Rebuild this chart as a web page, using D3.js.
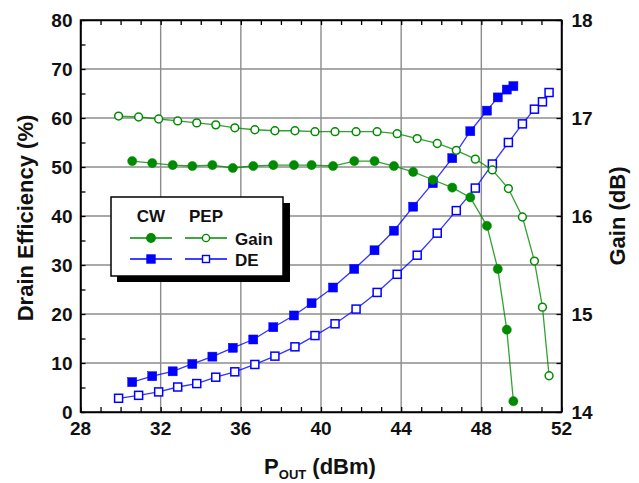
<!DOCTYPE html>
<html><head><meta charset="utf-8">
<script src="https://cdn.jsdelivr.net/npm/d3@7"></script>
<style>
html,body{margin:0;padding:0;background:#fff;}
svg{display:block;font-family:"Liberation Sans",Arial,sans-serif;font-weight:bold;}
</style></head>
<body><svg id="c" width="639" height="483"></svg>
<script>
// ---- data ----
const poutPEP = [29.9, 30.9, 31.9, 32.85, 33.8, 34.75, 35.7, 36.7, 37.7, 38.7, 39.7, 40.7, 41.75, 42.8, 43.8, 44.8, 45.8, 46.75, 47.7, 48.55, 49.35, 50.05, 50.65, 51.05, 51.38];
const gainPEP = [17.02, 17.01, 16.99, 16.97, 16.95, 16.93, 16.90, 16.88, 16.87, 16.87, 16.86, 16.86, 16.86, 16.86, 16.84, 16.79, 16.74, 16.67, 16.58, 16.47, 16.28, 15.99, 15.54, 15.07, 14.37];
const dePEP   = [2.8, 3.4, 4.1, 5.1, 5.8, 7.1, 8.2, 9.7, 11.4, 13.3, 15.6, 18.0, 21.0, 24.4, 28.1, 32.0, 36.5, 41.1, 45.7, 50.6, 55.0, 58.8, 61.8, 63.3, 65.2];
const poutCW  = [30.58, 31.58, 32.6, 33.58, 34.58, 35.6, 36.62, 37.62, 38.65, 39.53, 40.6, 41.66, 42.67, 43.64, 44.6, 45.58, 46.55, 47.45, 48.28, 48.82, 49.27, 49.6];
const gainCW  = [16.56, 16.54, 16.52, 16.51, 16.52, 16.49, 16.51, 16.52, 16.52, 16.52, 16.51, 16.56, 16.56, 16.51, 16.45, 16.37, 16.29, 16.19, 15.90, 15.46, 14.84, 14.11];
const deCW    = [6.1, 7.3, 8.3, 9.8, 11.3, 13.1, 14.8, 17.3, 19.7, 22.2, 25.4, 29.2, 33.0, 37.0, 41.9, 46.7, 51.8, 57.3, 61.5, 64.2, 65.8, 66.5];
const xTicks  = [28, 32, 36, 40, 44, 48, 52];
const yTicks  = [0, 10, 20, 30, 40, 50, 60, 70, 80];
const gTicks  = [14, 15, 16, 17, 18];

const GREEN = "#008a00", BLUE = "#0000ff";
const svg = d3.select("#c");
const L = 80.5, R = 561.5, T = 20, B = 412;
const x = d3.scaleLinear().domain([28, 52]).range([L, R]);
const y = d3.scaleLinear().domain([0, 80]).range([B, T]);
const yg = d3.scaleLinear().domain([14, 18]).range([B, T]);

// grid
const grid = svg.append("g").attr("stroke", "#8c8c8c").attr("stroke-width", 1.4);
xTicks.slice(1, -1).forEach(v => grid.append("line").attr("x1", x(v)).attr("x2", x(v)).attr("y1", T).attr("y2", B));
yTicks.slice(1, -1).forEach(v => grid.append("line").attr("x1", L).attr("x2", R).attr("y1", y(v)).attr("y2", y(v)));

// axes (inward ticks)
const tickFmt = () => "";
svg.append("g").attr("transform", `translate(0,${B})`)
  .call(d3.axisBottom(x).tickValues(d3.range(28, 53, 1)).tickSize(-5).tickSizeOuter(0).tickFormat(tickFmt));
svg.append("g").attr("transform", `translate(0,${T})`)
  .call(d3.axisTop(x).tickValues(d3.range(28, 53, 1)).tickSize(-5).tickSizeOuter(0).tickFormat(tickFmt));
svg.append("g").attr("transform", `translate(${L},0)`)
  .call(d3.axisLeft(y).tickValues(d3.range(0, 81, 5)).tickSize(-5).tickSizeOuter(0).tickFormat(tickFmt));
svg.append("g").attr("transform", `translate(${R},0)`)
  .call(d3.axisRight(yg).tickValues(d3.range(14, 18.01, 0.5)).tickSize(-5).tickSizeOuter(0).tickFormat(tickFmt));
svg.selectAll(".domain").attr("stroke", "#000").attr("stroke-width", 1.5);
svg.selectAll(".tick line").attr("stroke", "#000").attr("stroke-width", 1.3);
svg.append("rect").attr("x", L).attr("y", T).attr("width", R - L).attr("height", B - T)
  .attr("fill", "none").attr("stroke", "#000").attr("stroke-width", 1.5);

// tick labels
const lab = svg.append("g").attr("font-size", 19).attr("fill", "#111");
xTicks.forEach(v => lab.append("text").attr("x", x(v)).attr("y", B + 23).attr("text-anchor", "middle").text(v));
yTicks.forEach(v => lab.append("text").attr("x", L - 8).attr("y", y(v) + 7).attr("text-anchor", "end").text(v));
gTicks.forEach(v => lab.append("text").attr("x", R + 10).attr("y", yg(v) + 7).attr("text-anchor", "start").text(v));

// axis titles
svg.append("text").attr("transform", `translate(33,218) rotate(-90)`).attr("text-anchor", "middle")
  .attr("font-size", 22).attr("fill", "#111").text("Drain Efficiency (%)");
svg.append("text").attr("transform", `translate(625,216) rotate(-90)`).attr("text-anchor", "middle")
  .attr("font-size", 22).attr("fill", "#111").text("Gain (dB)");
const xt = svg.append("text").attr("x", 320).attr("y", 474).attr("text-anchor", "middle").attr("font-size", 22).attr("fill", "#111");
xt.append("tspan").text("P");
xt.append("tspan").attr("font-size", 13).attr("dy", 5).text("OUT");
xt.append("tspan").attr("dy", -5).text(" (dBm)");

// series
function series(xs, ys, scale, color, kind, filled) {
  const pts = xs.map((v, i) => [x(v), scale(ys[i])]);
  const g = svg.append("g");
  g.append("path").attr("d", d3.line()(pts)).attr("fill", "none")
    .attr("stroke", color).attr("stroke-width", 1.3).attr("stroke-opacity", 0.8);
  if (kind === "circle") {
    g.selectAll("circle").data(pts).join("circle")
      .attr("cx", d => d[0]).attr("cy", d => d[1])
      .attr("r", filled ? 4.6 : 3.9)
      .attr("fill", filled ? color : "#fff").attr("stroke", color).attr("stroke-width", filled ? 0.5 : 1.5);
  } else {
    const s = filled ? 9 : 8;
    g.selectAll("rect").data(pts).join("rect")
      .attr("x", d => d[0] - s / 2).attr("y", d => d[1] - s / 2).attr("width", s).attr("height", s)
      .attr("fill", filled ? color : "#fff").attr("stroke", color).attr("stroke-width", filled ? 0.5 : 1.5);
  }
}
series(poutPEP, dePEP, y, BLUE, "square", false);
series(poutCW, deCW, y, BLUE, "square", true);
series(poutPEP, gainPEP, yg, GREEN, "circle", false);
series(poutCW, gainCW, yg, GREEN, "circle", true);

// legend
const lg = svg.append("g");
lg.append("rect").attr("x", 117).attr("y", 203).attr("width", 173).attr("height", 79).attr("fill", "#000");
lg.append("rect").attr("x", 111).attr("y", 197).attr("width", 172).attr("height", 79)
  .attr("fill", "#fff").attr("stroke", "#000").attr("stroke-width", 1.5);
lg.append("text").attr("x", 151).attr("y", 222).attr("text-anchor", "middle").attr("font-size", 17).attr("fill", "#111").text("CW");
lg.append("text").attr("x", 206).attr("y", 222).attr("text-anchor", "middle").attr("font-size", 17).attr("fill", "#111").text("PEP");
lg.append("text").attr("x", 235).attr("y", 245).attr("font-size", 17).attr("fill", "#111").text("Gain");
lg.append("text").attr("x", 235).attr("y", 266).attr("font-size", 17).attr("fill", "#111").text("DE");
function legItem(cx, cy, color, kind, filled) {
  lg.append("line").attr("x1", cx - 21).attr("x2", cx + 21).attr("y1", cy).attr("y2", cy)
    .attr("stroke", color).attr("stroke-width", 1.4);
  if (kind === "circle") {
    lg.append("circle").attr("cx", cx).attr("cy", cy).attr("r", filled ? 4.2 : 3.6)
      .attr("fill", filled ? color : "#fff").attr("stroke", color).attr("stroke-width", 1.4);
  } else {
    const s = filled ? 8 : 7;
    lg.append("rect").attr("x", cx - s / 2).attr("y", cy - s / 2).attr("width", s).attr("height", s)
      .attr("fill", filled ? color : "#fff").attr("stroke", color).attr("stroke-width", 1.4);
  }
}
legItem(151, 238, GREEN, "circle", true);
legItem(206, 238, GREEN, "circle", false);
legItem(151, 259, BLUE, "square", true);
legItem(206, 259, BLUE, "square", false);
</script></body></html>
